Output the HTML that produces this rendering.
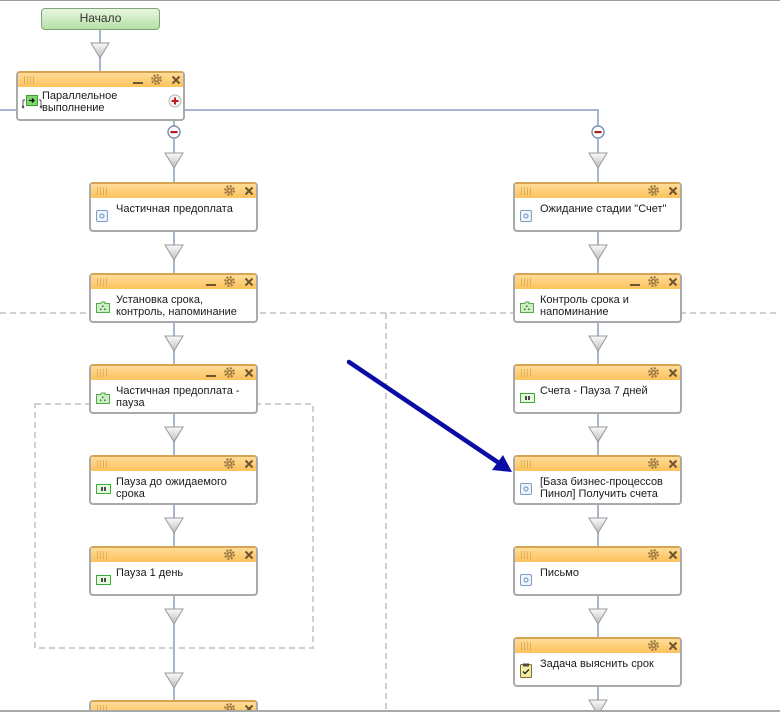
<!DOCTYPE html>
<html><head><meta charset="utf-8">
<style>
html,body{margin:0;padding:0;width:780px;height:715px;overflow:hidden;}
body{background:#fff;font-family:"Liberation Sans",Arial,sans-serif;}
#w{position:relative;width:780px;height:715px;overflow:hidden;background:#fff;}
.abs{position:absolute;}
.box{position:absolute;width:169px;height:50px;box-sizing:border-box;border:2px solid #aaaaaa;border-top-color:#d6a554;border-radius:4px;background:#fff;overflow:hidden;}
.hd{position:absolute;left:0;top:0;right:0;height:14px;background:linear-gradient(#ffdc98,#fcc25c);}
.grip{position:absolute;left:6px;top:3px;width:12px;height:8px;background:repeating-linear-gradient(90deg,rgba(170,115,40,0.35) 0 1px,transparent 1px 3px);}
.mn{position:absolute;left:115px;top:9px;width:10px;height:2px;background:#6e5530;}
.gear{position:absolute;left:133px;top:1px;}
.xx{position:absolute;left:153px;top:2px;}
.ic{position:absolute;left:5px;top:26px;}
.t{position:absolute;left:25px;top:19px;font-size:11px;line-height:12px;color:#1a1a1a;white-space:nowrap;}
</style></head>
<body>
<div id="w">
<div class="abs" style="left:0;top:0;width:780px;height:1px;background:#9c9c9c"></div>

<svg class="abs" style="left:0;top:0" width="780" height="715">
<defs>
<linearGradient id="tg" x1="0" y1="0" x2="0" y2="1"><stop offset="0" stop-color="#fbfbfb"/><stop offset="1" stop-color="#bdbdbd"/></linearGradient>
</defs>
<g stroke="#cfcfcf" stroke-width="2" stroke-dasharray="6 4" fill="none">
<line x1="0" y1="313" x2="780" y2="313"/>
<line x1="386" y1="313" x2="386" y2="711"/>
<rect x="35" y="404" width="278" height="244"/>
</g>
<g stroke="#a8b7cb" stroke-width="2" fill="none">
<line x1="100" y1="30" x2="100" y2="71"/>
<line x1="0" y1="110" x2="16" y2="110"/>
<line x1="185" y1="110" x2="598" y2="110"/>
<line x1="598" y1="109" x2="598" y2="711"/>
<line x1="174" y1="121" x2="174" y2="711"/>
</g>
<g fill="url(#tg)" stroke="#999" stroke-width="1">
<polygon points="91,43 109,43 100,58"/>
<polygon points="165,153 183,153 174,168"/>
<polygon points="589,153 607,153 598,168"/>
<polygon points="165,245 183,245 174,260"/>
<polygon points="165,336 183,336 174,351"/>
<polygon points="165,427 183,427 174,442"/>
<polygon points="165,518 183,518 174,533"/>
<polygon points="165,609 183,609 174,624"/>
<polygon points="165,673 183,673 174,688"/>
<polygon points="589,245 607,245 598,260"/>
<polygon points="589,336 607,336 598,351"/>
<polygon points="589,427 607,427 598,442"/>
<polygon points="589,518 607,518 598,533"/>
<polygon points="589,609 607,609 598,624"/>
<polygon points="589,700 607,700 598,715"/>
</g>
<g>
<circle cx="174" cy="132" r="6" fill="#fff" stroke="#7f95b5" stroke-width="1.5"/>
<rect x="170.5" y="131" width="7" height="2.2" fill="#b31a1a"/>
<circle cx="598" cy="132" r="6" fill="#fff" stroke="#7f95b5" stroke-width="1.5"/>
<rect x="594.5" y="131" width="7" height="2.2" fill="#b31a1a"/>
</g>
</svg>

<!-- Начало -->
<div class="abs" style="left:41px;top:8px;width:119px;height:22px;box-sizing:border-box;border:1.5px solid #7ea479;border-radius:4px;background:linear-gradient(#e8f7e0,#b5e0a6);text-align:center;font-size:12px;line-height:19px;color:#333;">Начало</div>

<!-- Parallel -->
<div class="box" style="left:16px;top:71px">
 <div class="hd"><i class="grip"></i><i class="mn"></i>
 <svg class="gear" width="11" height="11"><circle cx="5.5" cy="5.5" r="4.3" fill="none" stroke="#9c7840" stroke-width="2.2" stroke-dasharray="2 1.4"/><circle cx="5.5" cy="5.5" r="2.8" fill="#9c7840"/><circle cx="5.5" cy="5.5" r="1.2" fill="#fdd080"/></svg>
 <svg class="xx" width="10" height="10"><path d="M1.5 1.5L8.5 8.5M8.5 1.5L1.5 8.5" stroke="#6e5530" stroke-width="2"/></svg></div>
 <svg class="abs" style="left:3px;top:21px" width="22" height="16"><path d="M2 6v7M1 12l1 2 1-2M20 6v7M19 12l1 2 1-2M2 6h2M18 6h2" stroke="#444" stroke-width="0.9" fill="none"/><rect x="5.5" y="1.5" width="11" height="10" fill="#7fd66c" stroke="#3f9a36"/><path d="M8 6.5h5M11 4.5l2 2-2 2" stroke="#111" stroke-width="1.3" fill="none"/></svg>
 <div class="t" style="left:24px;top:17px">Параллельное<br>выполнение</div>
 <svg class="abs" style="left:150px;top:21px" width="14" height="14"><circle cx="7" cy="7" r="6" fill="#f3f3f3" stroke="#b5b5b5"/><path d="M3.5 7h7M7 3.5v7" stroke="#c01c1c" stroke-width="2"/></svg>
</div>

<!-- LEFT COLUMN -->
<div class="box" style="left:89px;top:182px">
 <div class="hd"><i class="grip"></i>
 <svg class="gear" width="11" height="11"><circle cx="5.5" cy="5.5" r="4.3" fill="none" stroke="#9c7840" stroke-width="2.2" stroke-dasharray="2 1.4"/><circle cx="5.5" cy="5.5" r="2.8" fill="#9c7840"/><circle cx="5.5" cy="5.5" r="1.2" fill="#fdd080"/></svg>
 <svg class="xx" width="10" height="10"><path d="M1.5 1.5L8.5 8.5M8.5 1.5L1.5 8.5" stroke="#6e5530" stroke-width="2"/></svg></div>
 <svg class="ic" width="12" height="12"><rect x="0.5" y="0.5" width="11" height="11" rx="1.5" fill="#eef4fb" stroke="#7e9cc3"/><circle cx="6" cy="6" r="2" fill="none" stroke="#6d8fc0"/></svg>
 <div class="t">Частичная предоплата</div>
</div>

<div class="box" style="left:89px;top:273px">
 <div class="hd"><i class="grip"></i><i class="mn"></i>
 <svg class="gear" width="11" height="11"><circle cx="5.5" cy="5.5" r="4.3" fill="none" stroke="#9c7840" stroke-width="2.2" stroke-dasharray="2 1.4"/><circle cx="5.5" cy="5.5" r="2.8" fill="#9c7840"/><circle cx="5.5" cy="5.5" r="1.2" fill="#fdd080"/></svg>
 <svg class="xx" width="10" height="10"><path d="M1.5 1.5L8.5 8.5M8.5 1.5L1.5 8.5" stroke="#6e5530" stroke-width="2"/></svg></div>
 <svg class="ic" width="14" height="12"><path d="M0.5 2.5h4l1-1.5h3.5v1.5h4.5v9h-13z" fill="#cdeec4" stroke="#52a848"/><rect x="6" y="4.5" width="1.5" height="1.5" fill="#2f7a2a"/><rect x="4" y="7.5" width="1.5" height="1.5" fill="#2f7a2a"/><rect x="8" y="7.5" width="1.5" height="1.5" fill="#2f7a2a"/></svg>
 <div class="t">Установка срока,<br>контроль, напоминание</div>
</div>

<div class="box" style="left:89px;top:364px">
 <div class="hd"><i class="grip"></i><i class="mn"></i>
 <svg class="gear" width="11" height="11"><circle cx="5.5" cy="5.5" r="4.3" fill="none" stroke="#9c7840" stroke-width="2.2" stroke-dasharray="2 1.4"/><circle cx="5.5" cy="5.5" r="2.8" fill="#9c7840"/><circle cx="5.5" cy="5.5" r="1.2" fill="#fdd080"/></svg>
 <svg class="xx" width="10" height="10"><path d="M1.5 1.5L8.5 8.5M8.5 1.5L1.5 8.5" stroke="#6e5530" stroke-width="2"/></svg></div>
 <svg class="ic" width="14" height="12"><path d="M0.5 2.5h4l1-1.5h3.5v1.5h4.5v9h-13z" fill="#cdeec4" stroke="#52a848"/><rect x="6" y="4.5" width="1.5" height="1.5" fill="#2f7a2a"/><rect x="4" y="7.5" width="1.5" height="1.5" fill="#2f7a2a"/><rect x="8" y="7.5" width="1.5" height="1.5" fill="#2f7a2a"/></svg>
 <div class="t">Частичная предоплата -<br>пауза</div>
</div>

<div class="box" style="left:89px;top:455px">
 <div class="hd"><i class="grip"></i>
 <svg class="gear" width="11" height="11"><circle cx="5.5" cy="5.5" r="4.3" fill="none" stroke="#9c7840" stroke-width="2.2" stroke-dasharray="2 1.4"/><circle cx="5.5" cy="5.5" r="2.8" fill="#9c7840"/><circle cx="5.5" cy="5.5" r="1.2" fill="#fdd080"/></svg>
 <svg class="xx" width="10" height="10"><path d="M1.5 1.5L8.5 8.5M8.5 1.5L1.5 8.5" stroke="#6e5530" stroke-width="2"/></svg></div>
 <svg class="ic" style="left:5px;top:27px" width="15" height="10"><rect x="0.5" y="0.5" width="14" height="9" fill="#e6f8de" stroke="#3cae38"/><rect x="5.2" y="3" width="1.6" height="4" fill="#222"/><rect x="8.2" y="3" width="1.6" height="4" fill="#222"/></svg>
 <div class="t">Пауза до ожидаемого<br>срока</div>
</div>

<div class="box" style="left:89px;top:546px">
 <div class="hd"><i class="grip"></i>
 <svg class="gear" width="11" height="11"><circle cx="5.5" cy="5.5" r="4.3" fill="none" stroke="#9c7840" stroke-width="2.2" stroke-dasharray="2 1.4"/><circle cx="5.5" cy="5.5" r="2.8" fill="#9c7840"/><circle cx="5.5" cy="5.5" r="1.2" fill="#fdd080"/></svg>
 <svg class="xx" width="10" height="10"><path d="M1.5 1.5L8.5 8.5M8.5 1.5L1.5 8.5" stroke="#6e5530" stroke-width="2"/></svg></div>
 <svg class="ic" style="left:5px;top:27px" width="15" height="10"><rect x="0.5" y="0.5" width="14" height="9" fill="#e6f8de" stroke="#3cae38"/><rect x="5.2" y="3" width="1.6" height="4" fill="#222"/><rect x="8.2" y="3" width="1.6" height="4" fill="#222"/></svg>
 <div class="t">Пауза 1 день</div>
</div>

<div class="box" style="left:89px;top:700px">
 <div class="hd"><i class="grip"></i>
 <svg class="gear" width="11" height="11"><circle cx="5.5" cy="5.5" r="4.3" fill="none" stroke="#9c7840" stroke-width="2.2" stroke-dasharray="2 1.4"/><circle cx="5.5" cy="5.5" r="2.8" fill="#9c7840"/><circle cx="5.5" cy="5.5" r="1.2" fill="#fdd080"/></svg>
 <svg class="xx" width="10" height="10"><path d="M1.5 1.5L8.5 8.5M8.5 1.5L1.5 8.5" stroke="#6e5530" stroke-width="2"/></svg></div>
</div>

<!-- RIGHT COLUMN -->
<div class="box" style="left:513px;top:182px">
 <div class="hd"><i class="grip"></i>
 <svg class="gear" width="11" height="11"><circle cx="5.5" cy="5.5" r="4.3" fill="none" stroke="#9c7840" stroke-width="2.2" stroke-dasharray="2 1.4"/><circle cx="5.5" cy="5.5" r="2.8" fill="#9c7840"/><circle cx="5.5" cy="5.5" r="1.2" fill="#fdd080"/></svg>
 <svg class="xx" width="10" height="10"><path d="M1.5 1.5L8.5 8.5M8.5 1.5L1.5 8.5" stroke="#6e5530" stroke-width="2"/></svg></div>
 <svg class="ic" width="12" height="12"><rect x="0.5" y="0.5" width="11" height="11" rx="1.5" fill="#eef4fb" stroke="#7e9cc3"/><circle cx="6" cy="6" r="2" fill="none" stroke="#6d8fc0"/></svg>
 <div class="t">Ожидание стадии "Счет"</div>
</div>

<div class="box" style="left:513px;top:273px">
 <div class="hd"><i class="grip"></i><i class="mn"></i>
 <svg class="gear" width="11" height="11"><circle cx="5.5" cy="5.5" r="4.3" fill="none" stroke="#9c7840" stroke-width="2.2" stroke-dasharray="2 1.4"/><circle cx="5.5" cy="5.5" r="2.8" fill="#9c7840"/><circle cx="5.5" cy="5.5" r="1.2" fill="#fdd080"/></svg>
 <svg class="xx" width="10" height="10"><path d="M1.5 1.5L8.5 8.5M8.5 1.5L1.5 8.5" stroke="#6e5530" stroke-width="2"/></svg></div>
 <svg class="ic" width="14" height="12"><path d="M0.5 2.5h4l1-1.5h3.5v1.5h4.5v9h-13z" fill="#cdeec4" stroke="#52a848"/><rect x="6" y="4.5" width="1.5" height="1.5" fill="#2f7a2a"/><rect x="4" y="7.5" width="1.5" height="1.5" fill="#2f7a2a"/><rect x="8" y="7.5" width="1.5" height="1.5" fill="#2f7a2a"/></svg>
 <div class="t">Контроль срока и<br>напоминание</div>
</div>

<div class="box" style="left:513px;top:364px">
 <div class="hd"><i class="grip"></i>
 <svg class="gear" width="11" height="11"><circle cx="5.5" cy="5.5" r="4.3" fill="none" stroke="#9c7840" stroke-width="2.2" stroke-dasharray="2 1.4"/><circle cx="5.5" cy="5.5" r="2.8" fill="#9c7840"/><circle cx="5.5" cy="5.5" r="1.2" fill="#fdd080"/></svg>
 <svg class="xx" width="10" height="10"><path d="M1.5 1.5L8.5 8.5M8.5 1.5L1.5 8.5" stroke="#6e5530" stroke-width="2"/></svg></div>
 <svg class="ic" style="left:5px;top:27px" width="15" height="10"><rect x="0.5" y="0.5" width="14" height="9" fill="#e6f8de" stroke="#3cae38"/><rect x="5.2" y="3" width="1.6" height="4" fill="#222"/><rect x="8.2" y="3" width="1.6" height="4" fill="#222"/></svg>
 <div class="t">Счета - Пауза 7 дней</div>
</div>

<div class="box" style="left:513px;top:455px">
 <div class="hd"><i class="grip"></i>
 <svg class="gear" width="11" height="11"><circle cx="5.5" cy="5.5" r="4.3" fill="none" stroke="#9c7840" stroke-width="2.2" stroke-dasharray="2 1.4"/><circle cx="5.5" cy="5.5" r="2.8" fill="#9c7840"/><circle cx="5.5" cy="5.5" r="1.2" fill="#fdd080"/></svg>
 <svg class="xx" width="10" height="10"><path d="M1.5 1.5L8.5 8.5M8.5 1.5L1.5 8.5" stroke="#6e5530" stroke-width="2"/></svg></div>
 <svg class="ic" width="12" height="12"><rect x="0.5" y="0.5" width="11" height="11" rx="1.5" fill="#eef4fb" stroke="#7e9cc3"/><circle cx="6" cy="6" r="2" fill="none" stroke="#6d8fc0"/></svg>
 <div class="t">[База бизнес-процессов<br>Пинол] Получить счета</div>
</div>

<div class="box" style="left:513px;top:546px">
 <div class="hd"><i class="grip"></i>
 <svg class="gear" width="11" height="11"><circle cx="5.5" cy="5.5" r="4.3" fill="none" stroke="#9c7840" stroke-width="2.2" stroke-dasharray="2 1.4"/><circle cx="5.5" cy="5.5" r="2.8" fill="#9c7840"/><circle cx="5.5" cy="5.5" r="1.2" fill="#fdd080"/></svg>
 <svg class="xx" width="10" height="10"><path d="M1.5 1.5L8.5 8.5M8.5 1.5L1.5 8.5" stroke="#6e5530" stroke-width="2"/></svg></div>
 <svg class="ic" width="12" height="12"><rect x="0.5" y="0.5" width="11" height="11" rx="1.5" fill="#eef4fb" stroke="#7e9cc3"/><circle cx="6" cy="6" r="2" fill="none" stroke="#6d8fc0"/></svg>
 <div class="t">Письмо</div>
</div>

<div class="box" style="left:513px;top:637px">
 <div class="hd"><i class="grip"></i>
 <svg class="gear" width="11" height="11"><circle cx="5.5" cy="5.5" r="4.3" fill="none" stroke="#9c7840" stroke-width="2.2" stroke-dasharray="2 1.4"/><circle cx="5.5" cy="5.5" r="2.8" fill="#9c7840"/><circle cx="5.5" cy="5.5" r="1.2" fill="#fdd080"/></svg>
 <svg class="xx" width="10" height="10"><path d="M1.5 1.5L8.5 8.5M8.5 1.5L1.5 8.5" stroke="#6e5530" stroke-width="2"/></svg></div>
 <svg class="ic" style="left:5px;top:24px" width="12" height="15"><rect x="0.5" y="1.5" width="11" height="13" rx="1" fill="#f5eea2" stroke="#7d6e34"/><rect x="3" y="0.5" width="6" height="3" fill="#4a4a4a"/><path d="M3 8.5l2 2 4-4" stroke="#222" stroke-width="1.3" fill="none"/></svg>
 <div class="t">Задача выяснить срок</div>
</div>

<!-- bottom frame -->
<div class="abs" style="left:0;top:712px;width:780px;height:3px;background:#fff"></div>
<div class="abs" style="left:0;top:710px;width:780px;height:2px;background:#a9a9a9"></div>

<!-- blue arrow -->
<svg class="abs" style="left:0;top:0" width="780" height="715">
<line x1="349" y1="362" x2="499" y2="463" stroke="#0b0ba6" stroke-width="4.5" stroke-linecap="round"/>
<polygon points="512,472 492,470 503,455" fill="#0b0ba6"/>
</svg>
</div>
</body></html>
